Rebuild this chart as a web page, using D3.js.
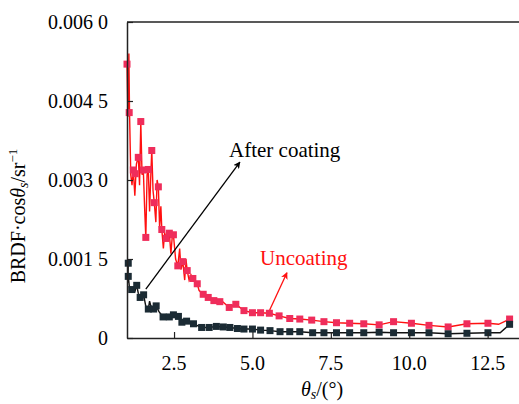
<!DOCTYPE html>
<html>
<head>
<meta charset="utf-8">
<script src="https://cdn.jsdelivr.net/npm/d3@7"></script>
<style>
  body { margin: 0; background: #fff; }
  svg { display: block; }
</style>
</head>
<body>
<div id="chart"></div>
<script>
// Uncoating: jagged trace, and the points carrying a marker
const uncoatLine = [
  [1.0, 0.0052], [1.03, 0.0042], [1.06, 0.0054], [1.08, 0.0043], [1.12, 0.0031],
  [1.16, 0.0029], [1.2, 0.0032], [1.25, 0.0027], [1.3, 0.0033], [1.36, 0.00345],
  [1.4, 0.0029], [1.44, 0.0041], [1.48, 0.0031], [1.52, 0.0032], [1.56, 0.0025],
  [1.6, 0.0019], [1.64, 0.0031], [1.68, 0.0032], [1.72, 0.0024], [1.76, 0.0031],
  [1.79, 0.00357], [1.83, 0.0028], [1.87, 0.00257], [1.92, 0.0022], [1.96, 0.0030],
  [2.0, 0.00287], [2.04, 0.0021], [2.08, 0.0025], [2.11, 0.00206], [2.16, 0.0017],
  [2.2, 0.0020], [2.25, 0.00189], [2.3, 0.0020], [2.35, 0.00199], [2.4, 0.0016],
  [2.44, 0.0019], [2.48, 0.00196], [2.55, 0.0015], [2.62, 0.00137], [2.68, 0.0017],
  [2.72, 0.0013], [2.78, 0.00145], [2.84, 0.0011], [2.88, 0.0015], [2.92, 0.00128],
  [2.98, 0.0011], [3.04, 0.0012], [3.1, 0.00113], [3.17, 0.00105], [3.24, 0.00103],
  [3.3, 0.0009], [3.43, 0.00083], [3.59, 0.00077], [3.77, 0.00071], [3.96, 0.00069],
  [4.05, 0.00069], [4.26, 0.00058], [4.47, 0.00064], [4.73, 0.00052], [5.0, 0.00048],
  [5.26, 0.00048], [5.54, 0.00047], [5.85, 0.00042], [6.19, 0.00037], [6.51, 0.00036],
  [6.89, 0.00034], [7.28, 0.00031], [7.68, 0.00029], [8.1, 0.00028], [8.55, 0.00027],
  [9.04, 0.00025], [9.5, 0.00031], [10.07, 0.00028], [10.63, 0.00024], [11.24, 0.00021],
  [11.84, 0.00027], [12.51, 0.00028], [12.85, 0.00026], [13.2, 0.00036]
];
const uncoatMarks = [
  [1.0, 0.0052], [1.07, 0.00428], [1.44, 0.00411], [1.79, 0.00356], [1.2, 0.00319],
  [1.26, 0.00312], [1.36, 0.00343], [1.52, 0.00319], [1.68, 0.0032], [1.6, 0.00191],
  [1.87, 0.00257], [2.0, 0.00287], [2.11, 0.00206], [2.25, 0.00189], [2.35, 0.00199],
  [2.48, 0.00196], [2.62, 0.00137], [2.78, 0.00145], [2.92, 0.00128], [3.1, 0.00113],
  [3.24, 0.00103], [3.43, 0.00083], [3.59, 0.00077], [3.77, 0.00071], [3.96, 0.00069],
  [4.26, 0.00058], [4.47, 0.00064], [4.73, 0.00052], [5.0, 0.00048], [5.26, 0.00048],
  [5.54, 0.00047], [5.85, 0.00042], [6.19, 0.00037], [6.51, 0.00036], [6.89, 0.00034],
  [7.28, 0.00031], [7.68, 0.00029], [8.1, 0.00028], [8.55, 0.00027], [9.04, 0.00025],
  [9.5, 0.00031], [10.07, 0.00028], [10.63, 0.00024], [11.24, 0.00021], [11.84, 0.00027],
  [12.51, 0.00028], [13.2, 0.00036]
];

// After coating
const coatLine = [
  [1.02, 0.0015], [1.04, 0.00142], [1.03, 0.00105], [1.04, 0.00117], [1.08, 0.00095],
  [1.15, 0.00092], [1.25, 0.00088], [1.31, 0.001], [1.36, 0.00085], [1.42, 0.00077],
  [1.48, 0.0008], [1.53, 0.00082], [1.6, 0.0006], [1.68, 0.00055], [1.72, 0.0007],
  [1.78, 0.00056], [1.85, 0.00055], [1.93, 0.00061], [2.02, 0.0005], [2.15, 0.0004],
  [2.35, 0.0004], [2.48, 0.00044], [2.64, 0.00041], [2.75, 0.0003], [2.9, 0.00032],
  [3.12, 0.00027], [3.38, 0.0002], [3.62, 0.0002], [3.85, 0.00022], [4.07, 0.00021],
  [4.28, 0.0002], [4.52, 0.00018], [4.73, 0.00017], [5.0, 0.00017], [5.26, 0.00015],
  [5.56, 0.00014], [5.88, 0.00012], [6.19, 0.00012], [6.51, 0.00012], [6.92, 0.0001],
  [7.28, 0.0001], [7.68, 0.0001], [8.1, 0.0001], [8.55, 0.0001], [9.04, 0.00011],
  [9.5, 0.0001], [10.07, 0.0001], [10.63, 0.0001], [11.24, 0.00008], [11.84, 0.00009],
  [12.51, 0.0001], [12.9, 0.0001], [13.2, 0.00026]
];
const coatMarks = [
  [1.04, 0.00142], [1.04, 0.00117], [1.15, 0.00092], [1.31, 0.001], [1.42, 0.00077],
  [1.53, 0.00082], [1.68, 0.00055], [1.85, 0.00055], [1.93, 0.00061], [2.15, 0.0004],
  [2.35, 0.0004], [2.48, 0.00044], [2.64, 0.00041], [2.75, 0.0003], [2.9, 0.00032],
  [3.12, 0.00027], [3.38, 0.0002], [3.62, 0.0002], [3.85, 0.00022], [4.07, 0.00021],
  [4.28, 0.0002], [4.52, 0.00018], [4.73, 0.00017], [5.0, 0.00017], [5.26, 0.00015],
  [5.56, 0.00014], [5.88, 0.00012], [6.19, 0.00012], [6.51, 0.00012], [6.92, 0.0001],
  [7.28, 0.0001], [7.68, 0.0001], [8.1, 0.0001], [8.55, 0.0001], [9.04, 0.00011],
  [9.5, 0.0001], [10.07, 0.0001], [10.63, 0.0001], [11.24, 0.00008], [11.84, 0.00009],
  [12.51, 0.0001], [13.2, 0.00026]
];

const xTicks = [2.5, 5.0, 7.5, 10.0, 12.5];
const yTicks = [0, 0.0015, 0.003, 0.0045, 0.006];
const yTickLabels = ['0', '0.001 5', '0.003 0', '0.004 5', '0.006 0'];

// annotation arrows: [from, to] in data units
const coatArrow = [[1.6, 0.00093], [4.6, 0.00334]];
const uncoatArrow = [[5.55, 0.00053], [6.1, 0.00124]];

const W = 519, H = 404;
const margin = { top: 22, right: 0, bottom: 66, left: 127 };
const FONT = 'Liberation Serif';

const svg = d3.select('#chart').append('svg')
  .attr('width', W).attr('height', H)
  .attr('font-family', FONT);

const x = d3.scaleLinear().domain([1, 13.5]).range([margin.left, W - margin.right]);
const y = d3.scaleLinear().domain([0, 0.006]).range([H - margin.bottom, margin.top]);

const defs = svg.append('defs');
[['arrBlack', '#000'], ['arrRed', '#ff1010']].forEach(([id, c]) => {
  defs.append('marker')
    .attr('id', id).attr('viewBox', '0 0 10 10')
    .attr('refX', 9).attr('refY', 5)
    .attr('markerWidth', 7).attr('markerHeight', 7)
    .attr('markerUnits', 'userSpaceOnUse')
    .attr('orient', 'auto')
    .append('path').attr('d', 'M0,0 L10,5 L0,10 L2.5,5 Z').attr('fill', c);
});

const line = d3.line().x(d => x(d[0])).y(d => y(d[1]));

// series
svg.append('path').datum(uncoatLine)
  .attr('d', line).attr('fill', 'none')
  .attr('stroke', '#ff1010').attr('stroke-width', 1.4);
svg.append('g').selectAll('rect').data(uncoatMarks).join('rect')
  .attr('x', d => x(d[0]) - 3.5).attr('y', d => y(d[1]) - 3.5)
  .attr('width', 7).attr('height', 7)
  .attr('fill', '#ef2d5b');

svg.append('path').datum(coatLine)
  .attr('d', line).attr('fill', 'none')
  .attr('stroke', '#111').attr('stroke-width', 1.4);
svg.append('g').selectAll('rect').data(coatMarks).join('rect')
  .attr('x', d => x(d[0]) - 3.5).attr('y', d => y(d[1]) - 3.5)
  .attr('width', 7).attr('height', 7)
  .attr('fill', '#1b2b34');

// axes: lines and ticks from d3.axis, labels set as plain serif text
const xAxis = d3.axisBottom(x).tickValues(xTicks).tickFormat('')
  .tickSizeInner(-6).tickSizeOuter(0);
const yAxis = d3.axisLeft(y).tickValues(yTicks).tickFormat('')
  .tickSizeInner(-6).tickSizeOuter(0);

const gx = svg.append('g')
  .attr('transform', `translate(0,${H - margin.bottom})`).call(xAxis);
const gy = svg.append('g')
  .attr('transform', `translate(${margin.left},0)`).call(yAxis);

[gx, gy].forEach(g => {
  g.select('.domain').attr('stroke', '#222').attr('stroke-width', 1.5);
  g.selectAll('.tick line').attr('stroke', '#222').attr('stroke-width', 1.2);
  g.selectAll('.tick text').remove();
});

svg.append('g').selectAll('text').data(xTicks).join('text')
  .attr('x', d => x(d)).attr('y', H - margin.bottom + 32)
  .attr('text-anchor', 'middle').attr('font-size', 20).attr('font-family', FONT)
  .text(d3.format('.1f'));

svg.append('g').selectAll('text').data(yTicks).join('text')
  .attr('x', margin.left - 19).attr('y', d => y(d)).attr('dy', '0.33em')
  .attr('text-anchor', 'end').attr('font-size', 20).attr('font-family', FONT)
  .text((d, i) => yTickLabels[i]);

// top frame line
svg.append('line')
  .attr('x1', margin.left).attr('x2', W)
  .attr('y1', margin.top).attr('y2', margin.top)
  .attr('stroke', '#222').attr('stroke-width', 1.5);

// annotations
svg.append('line')
  .attr('x1', x(coatArrow[0][0])).attr('y1', y(coatArrow[0][1]))
  .attr('x2', x(coatArrow[1][0])).attr('y2', y(coatArrow[1][1]))
  .attr('stroke', '#000').attr('stroke-width', 1.3)
  .attr('marker-end', 'url(#arrBlack)');
svg.append('text')
  .attr('x', 229).attr('y', 157)
  .attr('font-size', 21).attr('fill', '#000')
  .text('After coating');

svg.append('line')
  .attr('x1', x(uncoatArrow[0][0])).attr('y1', y(uncoatArrow[0][1]))
  .attr('x2', x(uncoatArrow[1][0])).attr('y2', y(uncoatArrow[1][1]))
  .attr('stroke', '#ff1010').attr('stroke-width', 1.3)
  .attr('marker-end', 'url(#arrRed)');
svg.append('text')
  .attr('x', 260).attr('y', 265)
  .attr('font-size', 21).attr('fill', '#ff1010')
  .text('Uncoating');

// axis titles
const xt = svg.append('text')
  .attr('x', 322).attr('y', 396)
  .attr('text-anchor', 'middle').attr('font-size', 20);
xt.append('tspan').attr('font-style', 'italic').text('θ');
xt.append('tspan').attr('font-style', 'italic').attr('font-size', 14).attr('dy', 3).text('s');
xt.append('tspan').attr('dy', -3).text('/(°)');

const yt = svg.append('text')
  .attr('transform', 'translate(25,216) rotate(-90)')
  .attr('text-anchor', 'middle').attr('font-size', 20);
yt.append('tspan').text('BRDF·cos');
yt.append('tspan').attr('font-style', 'italic').text('θ');
yt.append('tspan').attr('font-style', 'italic').attr('font-size', 14).attr('dy', 3).text('s');
yt.append('tspan').attr('dy', -3).text('/sr');
yt.append('tspan').attr('font-size', 13).attr('dy', -8).text('−1');
</script>
</body>
</html>
